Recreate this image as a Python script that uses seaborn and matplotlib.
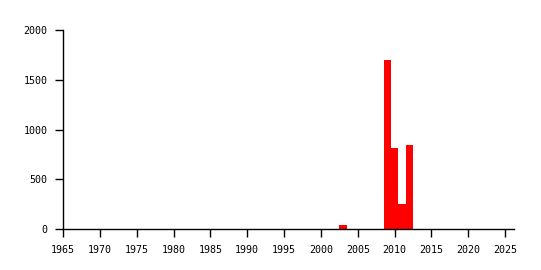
import matplotlib
matplotlib.use("Agg")
import matplotlib.pyplot as plt
import seaborn as sns
import pandas as pd

years = [2003, 2009, 2010, 2011, 2012, 2024]
counts = [40, 1700, 815, 255, 845, 4]
x_ticks = [1965, 1970, 1975, 1980, 1985, 1990, 1995, 2000, 2005, 2010, 2015, 2020, 2025]
y_ticks = [0, 500, 1000, 1500, 2000]

df = pd.DataFrame({"year": years, "count": counts})

sns.set_style("ticks")
plt.rcParams['font.family'] = ['DejaVu Sans Mono']

fig = plt.figure(figsize=(5.41, 2.70), dpi=100)
ax = fig.add_axes([63/541, 1 - 229.3/270, (514 - 63)/541, (229.3 - 30)/270])

sns.histplot(data=df, x="year", weights="count", discrete=True, color="#ff0000",
             alpha=1, linewidth=0, element="bars", ax=ax)

ax.set_xlim(1965, 2026.2)
ax.set_ylim(0, 2000)
ax.set_xticks(x_ticks)
ax.set_yticks(y_ticks)
ax.set_xlabel("")
ax.set_ylabel("")
for side in ["top", "right"]:
    ax.spines[side].set_visible(False)
for side in ["left", "bottom"]:
    ax.spines[side].set_color("black")
    ax.spines[side].set_linewidth(1)
ax.tick_params(axis="both", length=6, width=1, color="black", labelsize=7.2,
               labelcolor="black", pad=5, direction="out")

fig.savefig("out.png", dpi=100)
